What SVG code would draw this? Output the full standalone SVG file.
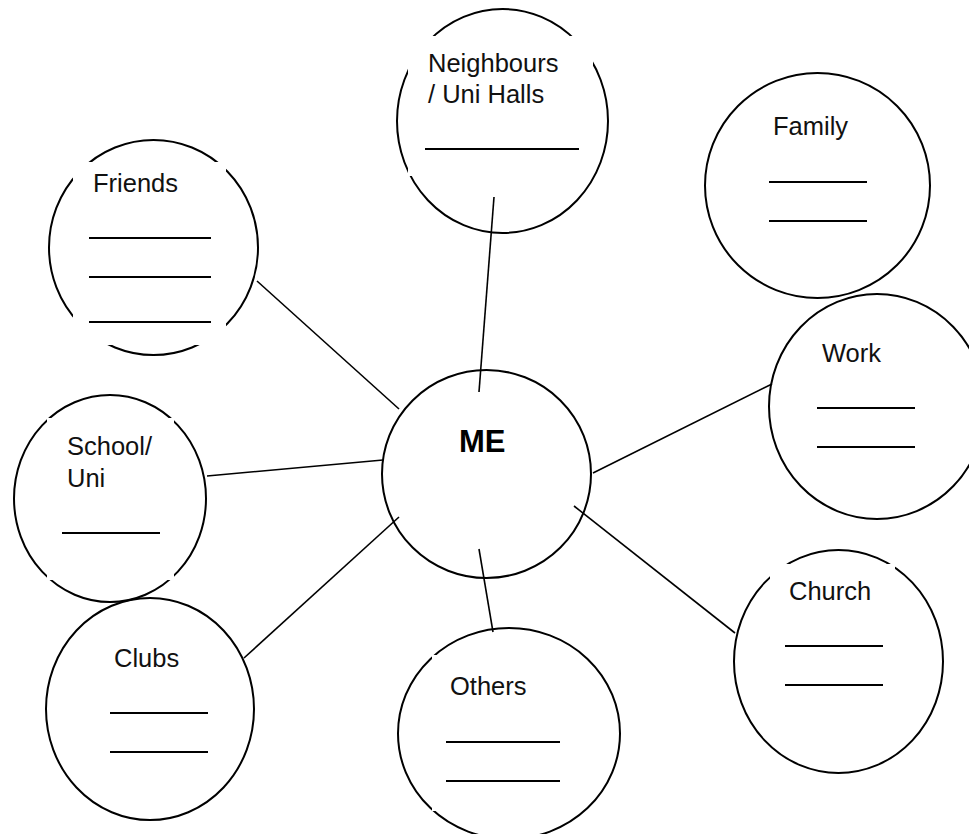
<svg xmlns="http://www.w3.org/2000/svg" width="969" height="834" viewBox="0 0 969 834">
<style>
.c{fill:none;stroke:#000;stroke-width:2}
.m{fill:#fff;stroke:none}
.b{stroke:#000;stroke-width:2.2}
.k{stroke:#000;stroke-width:1.6;fill:none}
.t{font-family:"Liberation Sans",Arial,Helvetica,sans-serif;font-size:25.5px;fill:#111}
.h{font-family:"Liberation Sans",Arial,Helvetica,sans-serif;font-size:31px;font-weight:bold;fill:#000}
</style>
<rect width="969" height="834" fill="#fff"/>
<g id="connectors">
<line class="k" x1="494" y1="197" x2="479" y2="392"/>
<line class="k" x1="257" y1="281" x2="399" y2="409"/>
<line class="k" x1="207" y1="476" x2="383" y2="460"/>
<line class="k" x1="244" y1="658" x2="399" y2="517"/>
<line class="k" x1="479" y1="549" x2="493" y2="632"/>
<line class="k" x1="574" y1="506" x2="735" y2="633"/>
<line class="k" x1="593" y1="473" x2="772" y2="384"/>
</g>
<g id="me">
<ellipse class="c" cx="486.5" cy="474" rx="104.5" ry="104"/>
<text class="h" x="459" y="452">ME</text>
</g>
<g id="neighbours">
<ellipse class="c" cx="502.5" cy="121" rx="105.5" ry="112"/>
<rect class="m" x="408" y="36" width="185" height="140"/>
<text class="t" x="428" y="72">Neighbours</text>
<text class="t" x="428" y="103">/ Uni Halls</text>
<line class="b" x1="425" y1="149" x2="579" y2="149"/>
</g>
<g id="family">
<ellipse class="c" cx="817.5" cy="185.5" rx="112.5" ry="112.5"/>
<text class="t" x="773" y="135">Family</text>
<line class="b" x1="769" y1="182" x2="867" y2="182"/>
<line class="b" x1="769" y1="221" x2="867" y2="221"/>
</g>
<g id="work">
<ellipse class="c" cx="877" cy="406.5" rx="108" ry="112.5"/>
<text class="t" x="822" y="362">Work</text>
<line class="b" x1="817" y1="408" x2="915" y2="408"/>
<line class="b" x1="817" y1="447" x2="915" y2="447"/>
</g>
<g id="church">
<ellipse class="c" cx="838.5" cy="661.5" rx="104.5" ry="111.5"/>
<rect class="m" x="770" y="564" width="125" height="136"/>
<text class="t" x="789" y="600">Church</text>
<line class="b" x1="785" y1="646" x2="883" y2="646"/>
<line class="b" x1="785" y1="685" x2="883" y2="685"/>
</g>
<g id="others">
<ellipse class="c" cx="509" cy="733.5" rx="111" ry="105.5"/>
<rect class="m" x="432" y="655" width="128" height="156"/>
<text class="t" x="450" y="695">Others</text>
<line class="b" x1="446" y1="742" x2="560" y2="742"/>
<line class="b" x1="446" y1="781" x2="560" y2="781"/>
</g>
<g id="clubs">
<ellipse class="c" cx="150" cy="709" rx="104" ry="111"/>
<text class="t" x="114" y="667">Clubs</text>
<line class="b" x1="110" y1="713" x2="208" y2="713"/>
<line class="b" x1="110" y1="752" x2="208" y2="752"/>
</g>
<g id="school">
<ellipse class="c" cx="110" cy="498.5" rx="96" ry="103.5"/>
<rect class="m" x="47" y="418" width="127" height="162"/>
<text class="t" x="67" y="455">School/</text>
<text class="t" x="67" y="487">Uni</text>
<line class="b" x1="62" y1="533" x2="160" y2="533"/>
</g>
<g id="friends">
<ellipse class="c" cx="153.5" cy="247.5" rx="104.5" ry="107.5"/>
<rect class="m" x="73" y="162" width="153" height="183"/>
<text class="t" x="93" y="192">Friends</text>
<line class="b" x1="89" y1="238" x2="211" y2="238"/>
<line class="b" x1="89" y1="277" x2="211" y2="277"/>
<line class="b" x1="89" y1="322" x2="211" y2="322"/>
</g>
</svg>
